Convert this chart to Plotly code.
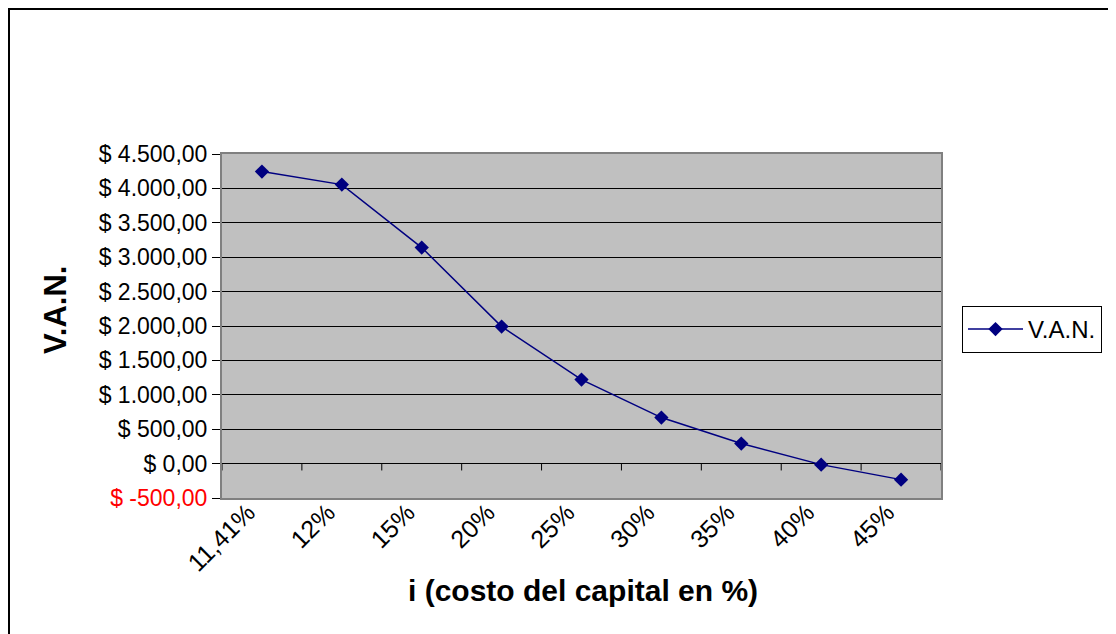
import plotly.graph_objects as go

# ---- data ----
categories = ["11,41%", "12%", "15%", "20%", "25%", "30%", "35%", "40%", "45%"]
van_values = [4244, 4055, 3140, 1991, 1221, 669, 291, -15, -233]
series_name = "V.A.N."
y_tickvals = [-500, 0, 500, 1000, 1500, 2000, 2500, 3000, 3500, 4000, 4500]
y_ticktext = ["$ -500,00", "$ 0,00", "$ 500,00", "$ 1.000,00", "$ 1.500,00",
              "$ 2.000,00", "$ 2.500,00", "$ 3.000,00", "$ 3.500,00",
              "$ 4.000,00", "$ 4.500,00"]
x_title = "i (costo del capital en %)"
y_title = "V.A.N."

# ---- layout geometry (figure pixels; page has 8px body margin) ----
W, H = 1108, 626
L, R, T, B = 214, 933, 146, 490
pw, ph = R - L, B - T

def px_x(px):
    return (px - L) / pw

def px_y(py):
    return (B - py) / ph

ticktext = [('<span style="color:#ff0000">%s</span>' % t) if v < 0 else t
            for v, t in zip(y_tickvals, y_ticktext)]

fig = go.Figure()
fig.add_trace(go.Scatter(
    x=categories, y=van_values, name=series_name, mode="lines+markers",
    line=dict(color="#000080", width=1.5),
    marker=dict(symbol="diamond", size=11, color="#000080"),
))

font_family = "Liberation Sans, Arial, sans-serif"

# category boundary tick marks on the zero line
shapes = []
for i in range(len(categories) + 1):
    shapes.append(dict(type="line", xref="x", yref="y",
                       x0=i - 0.5, x1=i - 0.5, y0=0, y1=-100,
                       line=dict(color="black", width=1)))
# outer chart border
shapes.append(dict(type="rect", xref="paper", yref="paper",
                   x0=px_x(1), x1=px_x(1105), y0=px_y(660), y1=px_y(1),
                   line=dict(color="black", width=2), fillcolor="rgba(0,0,0,0)",
                   layer="above"))

fig.update_layout(
    width=W, height=H,
    margin=dict(l=L, r=W - R, t=T, b=H - B, pad=0),
    paper_bgcolor="white", plot_bgcolor="#C0C0C0",
    font=dict(family=font_family, size=23, color="black"),
    showlegend=True,
    legend=dict(x=px_x(954), y=px_y(298), xanchor="left", yanchor="top",
                bordercolor="black", borderwidth=1, bgcolor="white",
                font=dict(size=24), itemwidth=55),
    shapes=shapes,
    annotations=[
        dict(text="<b>%s</b>" % x_title, xref="paper", yref="paper",
             x=px_x(575), y=px_y(582), showarrow=False,
             xanchor="center", yanchor="middle", font=dict(size=30)),
        dict(text="<b>%s</b>" % y_title, xref="paper", yref="paper",
             x=px_x(47), y=px_y(302), showarrow=False, textangle=-90,
             xanchor="center", yanchor="middle", font=dict(size=31)),
    ],
)

fig.update_xaxes(
    type="category", categoryorder="array", categoryarray=categories,
    range=[-0.5, len(categories) - 0.5],
    showgrid=False, zeroline=False,
    showline=True, mirror=True, linecolor="#808080", linewidth=2,
    ticks="", tickangle=-45, tickfont=dict(size=25),
    ticklabelshift=-14, ticklabelstandoff=-12,
)
fig.update_yaxes(
    range=[-500, 4500], tickvals=y_tickvals, ticktext=ticktext,
    showgrid=True, gridcolor="black", gridwidth=1,
    zeroline=True, zerolinecolor="black", zerolinewidth=1,
    showline=True, mirror=True, linecolor="#808080", linewidth=2,
    ticks="outside", ticklen=8, tickcolor="black", tickwidth=1,
    tickfont=dict(size=23),
)

fig.write_html("out.html")
